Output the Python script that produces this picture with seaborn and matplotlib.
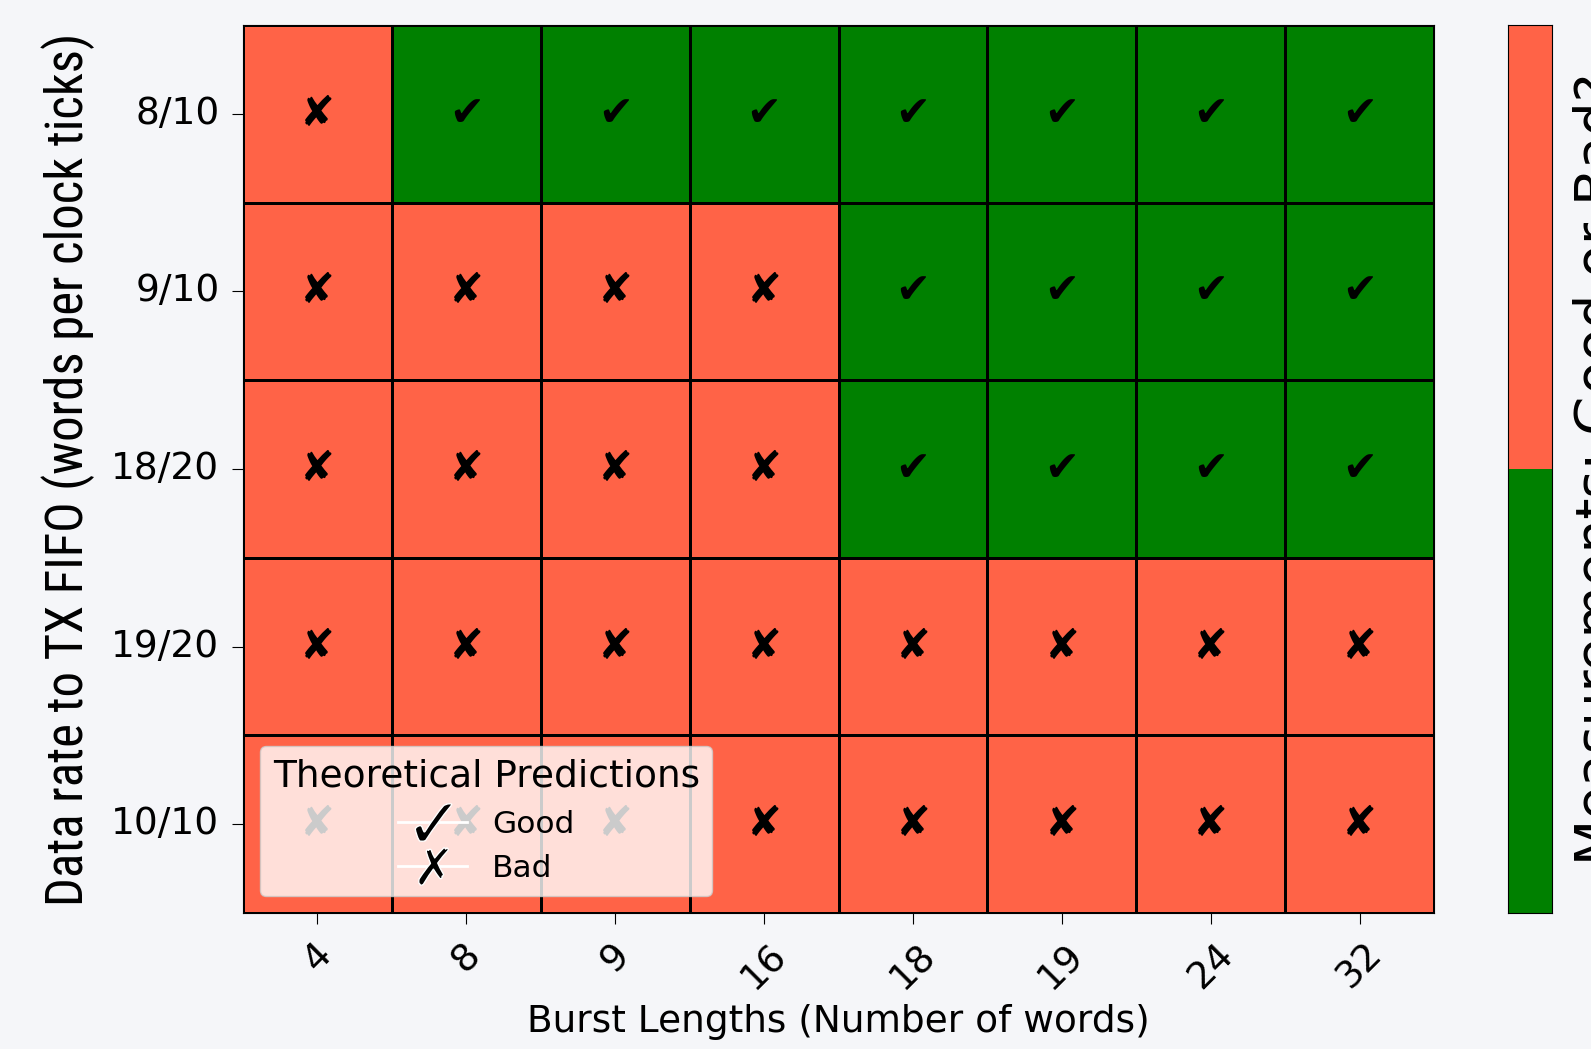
import numpy as np
import matplotlib
matplotlib.use("Agg")
import matplotlib.pyplot as plt
from matplotlib.colors import ListedColormap
from matplotlib.lines import Line2D
from matplotlib import font_manager
import seaborn as sns

# data: 1 = bad, 0 = good
rates = ['8/10', '9/10', '18/20', '19/20', '10/10']
bursts = ['4', '8', '9', '16', '18', '19', '24', '32']
measured = [
    [1, 0, 0, 0, 0, 0, 0, 0],
    [1, 1, 1, 1, 0, 0, 0, 0],
    [1, 1, 1, 1, 0, 0, 0, 0],
    [1, 1, 1, 1, 1, 1, 1, 1],
    [1, 1, 1, 1, 1, 1, 1, 1],
]
predicted = [
    [1, 0, 0, 0, 0, 0, 0, 0],
    [1, 1, 1, 1, 0, 0, 0, 0],
    [1, 1, 1, 1, 0, 0, 0, 0],
    [1, 1, 1, 1, 1, 1, 1, 1],
    [1, 1, 1, 1, 1, 1, 1, 1],
]

meas = np.array(measured)
marks = np.where(np.array(predicted) == 1, '\u2718', '\u2714')

# condensed face for the y label if one is around
names = {f.name for f in font_manager.fontManager.ttflist}
narrow = [n for n in ['Liberation Sans Narrow', 'Roboto Condensed',
                      'Open Sans Condensed', 'DejaVu Sans Condensed'] if n in names]

W, H = 1591, 1049
fig = plt.figure(figsize=(W / 100, H / 100), dpi=100, facecolor='#f5f6f9')
ax = fig.add_axes([243 / W, 1 - 913 / H, (1434 - 243) / W, (913 - 25) / H])
cax = fig.add_axes([1508 / W, 1 - 913 / H, 44 / W, (913 - 25) / H])

cmap = ListedColormap(['green', 'tomato'])
sns.heatmap(meas, ax=ax, cbar_ax=cax, cmap=cmap, vmin=0, vmax=1,
            annot=marks, fmt='', annot_kws={'fontsize': 30, 'color': 'black'},
            linewidths=1, linecolor='black',
            xticklabels=bursts, yticklabels=rates)

for s in ax.spines.values():
    s.set_visible(True)
    s.set_color('black')
ax.tick_params(axis='both', labelsize=27, length=8, pad=9)
plt.setp(ax.get_xticklabels(), rotation=45, ha='center')
plt.setp(ax.get_yticklabels(), rotation=0)
ax.set_xlabel('Burst Lengths (Number of words)', fontsize=27, labelpad=6)
if narrow:
    ax.set_ylabel('Data rate to TX FIFO (words per clock ticks)', fontsize=36.5,
                  family=[narrow[0], 'DejaVu Sans'], labelpad=12)
else:
    ax.set_ylabel('Data rate to TX FIFO (words per clock ticks)', fontsize=27,
                  labelpad=12)

cax.set_yticks([])
cax.set_ylabel('Measurements: Good or Bad?', fontsize=38.5, labelpad=15)
for s in cax.spines.values():
    s.set_visible(True)
    s.set_color('black')

handles = [
    Line2D([], [], color='white', lw=2, marker='$\u2713$', markersize=27,
           markerfacecolor='black', markeredgecolor='white', markeredgewidth=1),
    Line2D([], [], color='white', lw=2, marker='$\u2717$', markersize=27,
           markerfacecolor='black', markeredgecolor='white', markeredgewidth=1),
]
leg = ax.legend(handles, ['Good', 'Bad'], title='Theoretical Predictions',
                loc='lower left', fontsize=22.5, title_fontsize=27,
                framealpha=0.8, handlelength=2.2, labelspacing=0.5,
                borderaxespad=0.55)

fig.savefig('out.png', dpi=100, facecolor=fig.get_facecolor())
